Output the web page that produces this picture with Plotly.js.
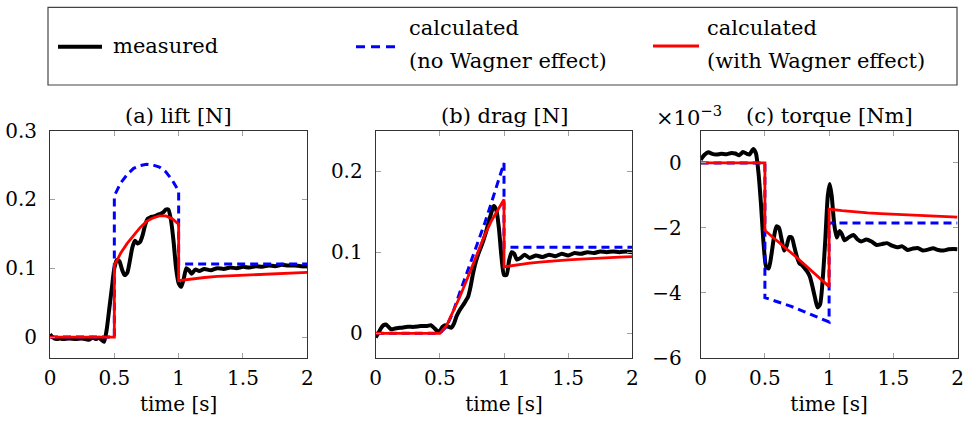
<!DOCTYPE html>
<html>
<head>
<meta charset="utf-8">
<script src="https://cdn.plot.ly/plotly-3.0.1.min.js"></script>
<style>html,body{margin:0;padding:0;background:#fff;}#chart{width:972px;height:423px;}</style>
</head>
<body>
<div id="chart"></div>
<script>
// ---------- (a) lift [N] ----------
const tLiftMeas = [0,0.02,0.05,0.08,0.1,0.15,0.2,0.25,0.3,0.33,0.36,0.38,0.4,0.42,0.44,0.46,0.48,0.5,0.52,0.54,0.56,0.58,0.6,0.62,0.64,0.66,0.68,0.7,0.72,0.74,0.76,0.78,0.8,0.82,0.84,0.86,0.88,0.9,0.92,0.94,0.96,0.98,1.0,1.02,1.04,1.06,1.08,1.1,1.13,1.16,1.2,1.25,1.3,1.35,1.4,1.45,1.5,1.55,1.6,1.65,1.7,1.75,1.8,1.85,1.9,1.95,2.0];
const liftMeas = [0.004,0.0,-0.003,-0.002,-0.003,-0.002,-0.003,-0.002,-0.004,-0.001,-0.003,-0.001,-0.004,-0.007,0.01,0.04,0.07,0.10,0.112,0.11,0.098,0.09,0.093,0.11,0.13,0.14,0.136,0.138,0.148,0.163,0.172,0.174,0.175,0.176,0.178,0.179,0.181,0.185,0.185,0.17,0.14,0.10,0.078,0.073,0.085,0.10,0.097,0.092,0.098,0.096,0.099,0.097,0.1,0.099,0.101,0.1,0.102,0.101,0.103,0.102,0.104,0.103,0.105,0.104,0.104,0.103,0.103];
const tLiftNoW = [0,0.5,0.5,0.55,0.6,0.65,0.7,0.75,0.8,0.85,0.9,0.95,1.0,1.0,2.0];
const liftNoW = [0,0,0.205,0.224,0.236,0.245,0.249,0.251,0.25,0.247,0.24,0.228,0.212,0.106,0.106];
const tLiftW = [0,0.5,0.5,0.55,0.6,0.65,0.7,0.75,0.8,0.85,0.9,0.95,1.0,1.0,1.1,1.2,1.3,1.4,1.5,1.6,1.7,1.8,1.9,2.0];
const liftW = [0,0,0.104,0.122,0.136,0.148,0.159,0.168,0.173,0.176,0.176,0.172,0.164,0.082,0.0845,0.0865,0.088,0.089,0.090,0.091,0.092,0.093,0.0935,0.094];

// ---------- (b) drag [N] ----------
const tDragMeas = [0,0.02,0.04,0.06,0.08,0.1,0.12,0.15,0.2,0.25,0.3,0.35,0.4,0.43,0.46,0.48,0.5,0.52,0.54,0.57,0.59,0.61,0.63,0.66,0.69,0.72,0.74,0.76,0.78,0.8,0.82,0.84,0.86,0.88,0.9,0.92,0.94,0.96,0.98,1.0,1.02,1.04,1.06,1.08,1.1,1.13,1.16,1.2,1.25,1.3,1.35,1.4,1.45,1.5,1.55,1.6,1.65,1.7,1.75,1.8,1.85,1.9,1.95,2.0];
const dragMeas = [-0.005,0.0,0.006,0.010,0.011,0.008,0.005,0.006,0.007,0.008,0.008,0.009,0.009,0.010,0.006,0.003,0.003,0.008,0.010,0.008,0.007,0.012,0.021,0.03,0.037,0.045,0.058,0.075,0.088,0.098,0.106,0.115,0.125,0.137,0.148,0.157,0.152,0.13,0.095,0.072,0.072,0.09,0.1,0.098,0.091,0.093,0.097,0.093,0.096,0.094,0.097,0.095,0.098,0.096,0.099,0.098,0.1,0.099,0.101,0.100,0.101,0.100,0.101,0.100];
const tDragNoW = [0,0.5,0.55,0.6,0.65,0.7,0.75,0.8,0.85,0.9,0.95,1.0,1.0,2.0];
const dragNoW = [0,0,0.008,0.025,0.048,0.07,0.09,0.112,0.136,0.16,0.185,0.21,0.106,0.106];
const tDragW = [0,0.5,0.55,0.6,0.65,0.7,0.75,0.8,0.85,0.9,0.95,1.0,1.0,1.1,1.2,1.3,1.4,1.5,1.6,1.7,1.8,1.9,2.0];
const dragW = [0,0,0.009,0.025,0.043,0.062,0.082,0.102,0.121,0.138,0.152,0.165,0.082,0.0845,0.0865,0.088,0.0895,0.0905,0.0915,0.0925,0.093,0.094,0.0945];

// ---------- (c) torque [Nm] (x 10^-3) ----------
const tTorqMeas = [0,0.03,0.06,0.09,0.12,0.16,0.2,0.24,0.27,0.3,0.33,0.36,0.38,0.41,0.43,0.45,0.47,0.49,0.51,0.53,0.55,0.57,0.59,0.61,0.63,0.65,0.67,0.69,0.71,0.73,0.75,0.77,0.79,0.81,0.83,0.85,0.87,0.89,0.91,0.93,0.95,0.97,0.99,1.005,1.02,1.04,1.06,1.08,1.1,1.12,1.15,1.19,1.22,1.25,1.29,1.33,1.37,1.41,1.45,1.49,1.53,1.57,1.61,1.65,1.69,1.73,1.77,1.81,1.85,1.89,1.93,1.97,2.0];
const torqMeas = [0.1,0.25,0.33,0.28,0.26,0.28,0.27,0.31,0.29,0.24,0.34,0.28,0.26,0.43,0.3,-0.3,-1.3,-2.5,-3.2,-3.25,-2.85,-2.3,-1.95,-2.0,-2.35,-2.7,-2.55,-2.28,-2.3,-2.6,-2.9,-3.1,-3.15,-3.25,-3.35,-3.5,-3.8,-4.15,-4.45,-4.35,-3.6,-2.4,-1.0,-0.65,-1.0,-1.9,-2.3,-2.1,-2.2,-2.38,-2.3,-2.22,-2.35,-2.42,-2.36,-2.42,-2.53,-2.5,-2.47,-2.55,-2.6,-2.57,-2.68,-2.64,-2.62,-2.7,-2.67,-2.63,-2.68,-2.7,-2.66,-2.65,-2.66];
const tTorqNoW = [0,0.5,0.5,0.6,0.7,0.8,0.9,1.0,1.0,2.0];
const torqNoW = [0,0,-4.15,-4.27,-4.41,-4.57,-4.73,-4.9,-1.85,-1.85];
const tTorqW = [0,0.5,0.5,0.75,1.0,1.0,1.1,1.2,1.3,1.4,1.5,1.6,1.7,1.8,1.9,2.0];
const torqW = [0,0,-2.08,-2.92,-3.81,-1.42,-1.47,-1.51,-1.54,-1.56,-1.58,-1.60,-1.62,-1.64,-1.655,-1.67];

// ---------- labels ----------
const panelTitles = ['(a) lift [N]','(b) drag [N]','(c) torque [Nm]'];
const legendNames = ['measured','calculated','(no Wagner effect)','calculated','(with Wagner effect)'];
const xTickVals = [0,0.5,1,1.5,2];
const xTickText = ['0','0.5','1','1.5','2'];
const yTickValsA = [0,0.1,0.2,0.3], yTickTextA = ['0','0.1','0.2','0.3'];
const yTickValsB = [0,0.1,0.2], yTickTextB = ['0','0.1','0.2'];
const yTickValsC = [0,-2,-4,-6], yTickTextC = ['0','\u22122','\u22124','\u22126'];

// ---------- styling / layout ----------
const W = 972, H = 423;
const FONT = 'DejaVu Serif, Liberation Serif, serif';
const PX = x => x / W, PY = y => 1 - y / H;
const yDom = [PY(357.7), PY(130.5)];
const xDoms = [[PX(50), PX(307.3)], [PX(375.7), PX(632.3)], [PX(700.7), PX(957.5)]];

function meas(x, y, xa, ya) {
  return {x, y, xaxis: xa, yaxis: ya, type: 'scatter', mode: 'lines',
    line: {color: '#000', width: 4, shape: 'spline', smoothing: 0.6}, hoverinfo: 'skip'};
}
function noW(x, y, xa, ya) {
  return {x, y, xaxis: xa, yaxis: ya, type: 'scatter', mode: 'lines',
    line: {color: '#0000ff', width: 3, dash: '8px,5px'}, hoverinfo: 'skip'};
}
function withW(x, y, xa, ya) {
  return {x, y, xaxis: xa, yaxis: ya, type: 'scatter', mode: 'lines',
    line: {color: '#ff0000', width: 2.8}, hoverinfo: 'skip'};
}

const data = [
  meas(tLiftMeas, liftMeas, 'x', 'y'), noW(tLiftNoW, liftNoW, 'x', 'y'), withW(tLiftW, liftW, 'x', 'y'),
  meas(tDragMeas, dragMeas, 'x2', 'y2'), noW(tDragNoW, dragNoW, 'x2', 'y2'), withW(tDragW, dragW, 'x2', 'y2'),
  meas(tTorqMeas, torqMeas, 'x3', 'y3'), noW(tTorqNoW, torqNoW, 'x3', 'y3'), withW(tTorqW, torqW, 'x3', 'y3')
];

function xAxis(i) {
  return {domain: xDoms[i], anchor: i === 0 ? 'y' : 'y' + (i + 1), range: [0, 2],
    tickmode: 'array', tickvals: xTickVals, ticktext: xTickText,
    ticks: 'inside', ticklen: 5, tickcolor: '#a0a0a0', tickwidth: 1,
    showline: true, linecolor: '#333', linewidth: 1, mirror: 'ticks',
    showgrid: false, zeroline: false, fixedrange: true, ticklabelstandoff: 2,
    tickfont: {family: FONT, size: 20, color: '#000'},
    title: {text: 'time [s]', standoff: 8, font: {family: FONT, size: 20, color: '#000'}}};
}
function yAxis(i, range, vals, text, standoff) {
  return {domain: yDom, anchor: i === 0 ? 'x' : 'x' + (i + 1), range: range,
    tickmode: 'array', tickvals: vals, ticktext: text,
    ticks: 'inside', ticklen: 5, tickcolor: '#a0a0a0', tickwidth: 1,
    showline: true, linecolor: '#333', linewidth: 1, mirror: 'ticks',
    showgrid: false, zeroline: false, fixedrange: true, ticklabelstandoff: standoff,
    tickfont: {family: FONT, size: 20, color: '#000'}};
}

const annFont = {family: FONT, size: 21, color: '#000'};
function ann(text, x, y, xanchor) {
  return {text, x: PX(x), y: PY(y), xref: 'paper', yref: 'paper', showarrow: false,
    xanchor: xanchor || 'center', yanchor: 'middle', font: annFont};
}

const annotations = [
  ann(panelTitles[0], 178.6, 116),
  ann(panelTitles[1], 504, 116),
  ann(panelTitles[2], 829, 116),
  ann('\u00d710<sup>\u22123</sup>', 654, 116, 'left'),
  ann(legendNames[0], 111, 46, 'left'),
  ann(legendNames[1], 407, 28, 'left'),
  ann(legendNames[2], 407, 61, 'left'),
  ann(legendNames[3], 705, 28, 'left'),
  ann(legendNames[4], 705, 61, 'left')
];

const shapes = [
  {type: 'rect', xref: 'paper', yref: 'paper', x0: PX(48), x1: PX(957), y0: PY(85), y1: PY(7.3),
    line: {color: '#444', width: 1.2}, fillcolor: 'rgba(0,0,0,0)'},
  {type: 'line', xref: 'paper', yref: 'paper', x0: PX(58), x1: PX(102), y0: PY(46.7), y1: PY(46.7),
    line: {color: '#000', width: 4}},
  {type: 'line', xref: 'paper', yref: 'paper', x0: PX(356), x1: PX(398), y0: PY(46.7), y1: PY(46.7),
    line: {color: '#0000ff', width: 3, dash: '9px,6px'}},
  {type: 'line', xref: 'paper', yref: 'paper', x0: PX(653), x1: PX(699), y0: PY(46), y1: PY(46),
    line: {color: '#ff0000', width: 2.8}}
];

const layout = {
  width: W, height: H, margin: {l: 0, r: 0, t: 0, b: 0},
  paper_bgcolor: '#fff', plot_bgcolor: '#fff', showlegend: false,
  font: {family: FONT, size: 20, color: '#000'},
  xaxis: xAxis(0), xaxis2: xAxis(1), xaxis3: xAxis(2),
  yaxis: yAxis(0, [-0.03, 0.3], yTickValsA, yTickTextA, 8),
  yaxis2: yAxis(1, [-0.03, 0.25], yTickValsB, yTickTextB, 8),
  yaxis3: yAxis(2, [-6, 1], yTickValsC, yTickTextC, 14),
  annotations, shapes
};

Plotly.newPlot('chart', data, layout, {staticPlot: true, displayModeBar: false});
</script>
</body>
</html>
